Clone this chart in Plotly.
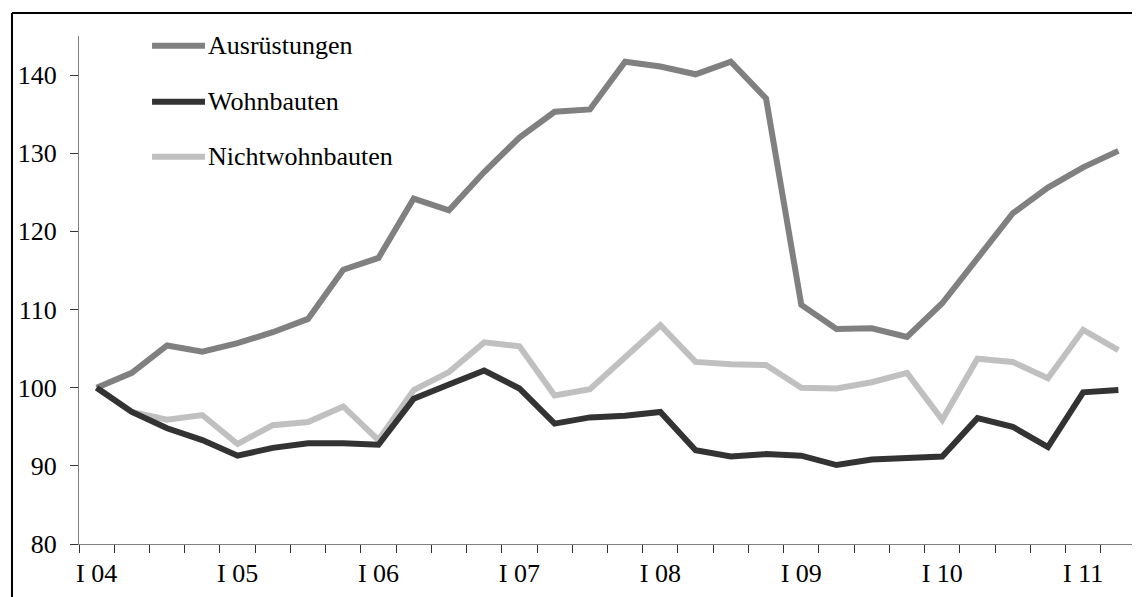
import plotly.graph_objects as go

quarters = [f"{q} {y:02d}" for y in range(4, 12) for q in ["I", "II", "III", "IV"]][:30]
tick_labels = ["I 04", "I 05", "I 06", "I 07", "I 08", "I 09", "I 10", "I 11"]

ausruestungen = [100.0, 101.9, 105.4, 104.6, 105.7, 107.1, 108.8, 115.1, 116.6, 124.2,
                 122.7, 127.6, 132.0, 135.3, 135.6, 141.7, 141.1, 140.1, 141.7, 137.0,
                 110.6, 107.5, 107.6, 106.5, 110.8, 116.7, 122.3, 125.6, 128.2, 130.3]
wohnbauten = [100.0, 96.9, 94.8, 93.3, 91.3, 92.3, 92.9, 92.9, 92.7, 98.6,
              100.4, 102.2, 99.9, 95.4, 96.2, 96.4, 96.9, 92.0, 91.2, 91.5,
              91.3, 90.1, 90.8, 91.0, 91.2, 96.1, 95.0, 92.4, 99.4, 99.7]
nichtwohnbauten = [100.0, 96.9, 95.9, 96.5, 92.8, 95.2, 95.6, 97.6, 93.3, 99.7,
                   102.0, 105.8, 105.3, 99.0, 99.8, 103.8, 108.0, 103.3, 103.0, 102.9,
                   100.0, 99.9, 100.7, 101.9, 95.9, 103.7, 103.3, 101.2, 107.4, 104.8]

series = [("Ausrüstungen", ausruestungen, "#808080"),
          ("Wohnbauten", wohnbauten, "#333333"),
          ("Nichtwohnbauten", nichtwohnbauten, "#c0c0c0")]

xs = list(range(len(quarters)))
fig = go.Figure()
for name, vals, col in [series[0], series[2], series[1]]:
    fig.add_trace(go.Scatter(x=xs, y=vals, mode="lines", name=name,
                             line=dict(color=col, width=6), showlegend=False,
                             hovertext=quarters))

FONT = "Liberation Serif"
# the page body adds an 8px offset, so margins are shifted by -8 px
fig.update_layout(
    width=1140, height=597,
    margin=dict(l=71, r=12, t=28, b=61, pad=0, autoexpand=False),
    paper_bgcolor="white", plot_bgcolor="white",
    font=dict(family=FONT, size=26, color="black"),
    xaxis=dict(range=[-0.5, len(quarters) - 0.5], showgrid=False, zeroline=False,
               automargin=False,
               showline=True, linecolor="#808080", linewidth=1,
               tickmode="array", tickvals=[i for i in xs if i % 4 == 0],
               ticktext=tick_labels, ticks="", ticklabelstandoff=6,
               tickfont=dict(family=FONT, size=26, color="black"),
               minor=dict(tickmode="linear", tick0=-0.5, dtick=1, ticks="outside",
                          ticklen=8, tickcolor="#333333", tickwidth=1, showgrid=False)),
    yaxis=dict(range=[80, 145], showgrid=False, zeroline=False,
               automargin=False,
               showline=True, linecolor="#808080", linewidth=1,
               tickmode="array", tickvals=[80, 90, 100, 110, 120, 130, 140],
               ticks="outside", ticklen=8, tickcolor="#333333", tickwidth=1,
               ticklabelstandoff=8, tickfont=dict(family=FONT, size=26, color="black")),
)

fig.add_shape(type="line", xref="paper", yref="paper", x0=-0.0634, x1=-0.0634,
              y0=-0.3, y1=1.0453, line=dict(color="black", width=2))
fig.add_shape(type="line", xref="paper", yref="paper", x0=-0.0634, x1=1.1,
              y0=1.0453, y1=1.0453, line=dict(color="black", width=2))

legend_rows = [0.981, 0.8707, 0.7624]
for (name, vals, col), yy in zip(series, legend_rows):
    fig.add_shape(type="line", xref="paper", yref="paper", x0=0.0691, x1=0.1192,
                  y0=yy, y1=yy, line=dict(color=col, width=6))
    fig.add_annotation(xref="paper", yref="paper", x=0.1205, y=yy, text=name,
                       showarrow=False, xanchor="left", yanchor="middle",
                       font=dict(family=FONT, size=26, color="black"))

fig.write_html("out.html")
